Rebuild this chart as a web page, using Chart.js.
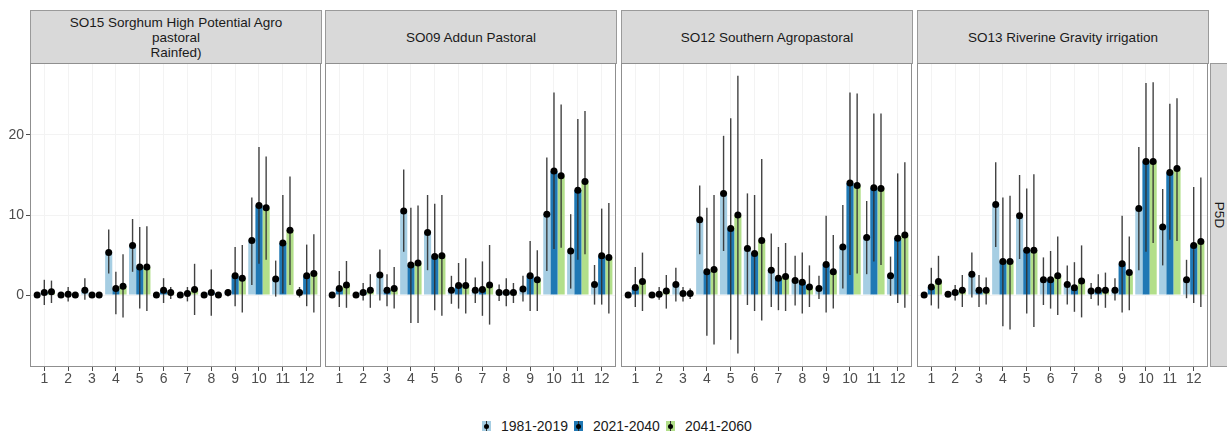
<!DOCTYPE html>
<html>
<head>
<meta charset="utf-8">
<title>P5D monthly means by livelihood zone</title>
<script src="https://cdn.jsdelivr.net/npm/chart.js@4/dist/chart.umd.min.js"></script>
<style>
  html, body { margin: 0; padding: 0; background: #fff; }
  body { width: 1227px; height: 438px; position: relative; overflow: hidden;
         font-family: "Liberation Sans", Arial, sans-serif; }
  .strip { position: absolute; box-sizing: border-box; background: #d9d9d9;
           border: 1px solid #9a9a9a; color: #1a1a1a; font-size: 13.5px;
           display: flex; align-items: center; justify-content: center;
           text-align: center; line-height: 15px; }
  .strip-right { position: absolute; box-sizing: border-box; background: #d9d9d9;
                 border: 1px solid #9a9a9a; }
  .strip-right span { position: absolute; left: 50%; top: 50%; color: #1a1a1a;
                      font-size: 13.5px; white-space: nowrap;
                      transform: translate(-50%, -50%) rotate(90deg); }
  .panel { position: absolute; }
  .legend { position: absolute; top: 416px; left: 482px; height: 20px;
            display: flex; align-items: center; font-size: 14px; color: #1a1a1a; }
  .key { position: relative; width: 9px; height: 10px; margin-right: 10px; }
  .key .bar { position: absolute; left: 4px; top: 0; width: 1px; height: 10px; background: #333; }
  .key .dot { position: absolute; left: 2px; top: 3px; width: 5px; height: 5px;
              border-radius: 50%; background: #000; }
  .legend .lab { margin-right: 6px; }
</style>
</head>
<body>
<div id="root"></div>
<div class="legend" id="legend"></div>
<script>
// Months on the x axis and the three periods compared
const months = [1, 2, 3, 4, 5, 6, 7, 8, 9, 10, 11, 12];
const periods = ["1981-2019", "2021-2040", "2041-2060"];
const periodColors = ["#a6cee3", "#1f78b4", "#b2df8a"];
const zoneNames = [
  ["SO15 Sorghum High Potential Agro", "pastoral", "Rainfed)"],
  ["SO09 Addun Pastoral"],
  ["SO12 Southern Agropastoral"],
  ["SO13 Riverine Gravity irrigation"]
];
const variableName = "P5D";
const yTicks = [0, 10, 20];

// SO15 Sorghum High Potential Agro pastoral (Rainfed): mean, lower, upper
const so15_1981 = [0.0, 0.0, 0.6, 5.3, 6.2, 0.0, 0.0, 0.0, 0.3, 6.8, 2.0, 0.3];
const so15_1981_lo = [-0.2, -0.2, -0.6, 2.7, 2.9, -0.2, -0.2, -0.2, -0.2, 1.25, -0.2, -0.3];
const so15_1981_hi = [0.2, 0.2, 2.1, 8.2, 9.5, 0.2, 0.2, 0.2, 0.7, 12.2, 4.3, 1.0];
const so15_2021 = [0.3, 0.1, 0.0, 0.8, 3.5, 0.6, 0.2, 0.3, 2.4, 11.2, 6.5, 2.4];
const so15_2021_lo = [-1.25, -0.8, -0.2, -2.4, -1.7, -1.0, -0.8, -2.6, -1.4, 3.9, 0.2, -1.4];
const so15_2021_hi = [1.9, 1.0, 0.2, 2.9, 8.5, 2.1, 1.0, 3.2, 6.0, 18.5, 12.5, 6.3];
const so15_2041 = [0.4, 0.0, 0.0, 1.1, 3.5, 0.3, 0.7, 0.0, 2.1, 10.9, 8.1, 2.7];
const so15_2041_lo = [-1.0, -0.2, -0.2, -2.8, -2.0, -0.5, -2.5, -0.2, -2.2, 4.4, 1.25, -2.2];
const so15_2041_hi = [1.8, 0.2, 0.2, 5.1, 8.6, 1.0, 3.9, 0.2, 6.25, 17.3, 14.8, 7.6];

// SO09 Addun Pastoral
const so09_1981 = [0.0, 0.0, 2.5, 10.5, 7.8, 0.6, 0.6, 0.3, 0.75, 10.1, 5.5, 1.3];
const so09_1981_lo = [-0.2, -0.2, -0.7, 5.4, 3.1, -1.1, -1.0, -0.75, -0.8, 3.0, 0.8, -1.2];
const so09_1981_hi = [0.2, 0.2, 5.7, 15.7, 12.5, 2.4, 2.2, 1.3, 2.4, 17.2, 10.1, 3.75];
const so09_2021 = [0.8, 0.3, 0.6, 3.75, 4.8, 1.2, 0.7, 0.3, 2.4, 15.5, 13.1, 4.9];
const so09_2021_lo = [-1.5, -0.7, -1.4, -3.5, -1.9, -1.7, -2.6, -1.4, -2.0, 5.75, 4.4, -1.2];
const so09_2021_hi = [3.0, 1.5, 2.6, 10.9, 11.4, 4.0, 4.2, 2.1, 6.75, 25.3, 22.0, 10.8];
const so09_2041 = [1.25, 0.6, 0.8, 4.0, 4.9, 1.2, 1.25, 0.3, 1.9, 14.9, 14.2, 4.7];
const so09_2041_lo = [-1.6, -1.6, -1.7, -3.5, -2.6, -2.3, -3.7, -1.0, -2.0, 5.9, 5.1, -2.3];
const so09_2041_hi = [4.25, 2.6, 3.5, 11.2, 12.5, 4.6, 6.25, 1.5, 5.6, 23.8, 23.0, 11.5];

// SO12 Southern Agropastoral
const so12_1981 = [0.0, 0.0, 1.3, 9.4, 12.7, 5.8, 3.1, 1.8, 0.8, 6.0, 7.2, 2.4];
const so12_1981_lo = [-0.2, -0.2, -0.8, 5.1, 5.5, -1.25, -1.5, -1.3, -0.5, 0.8, 2.6, -0.1];
const so12_1981_hi = [0.2, 0.2, 3.4, 13.7, 19.9, 12.7, 7.7, 4.9, 2.4, 11.25, 11.75, 4.8];
const so12_2021 = [0.95, 0.1, 0.2, 2.9, 8.3, 5.2, 2.1, 1.6, 3.8, 14.0, 13.4, 7.1];
const so12_2021_lo = [-1.5, -0.6, -0.8, -5.1, -5.6, -2.0, -1.9, -2.3, -2.2, 2.5, 4.2, -1.0];
const so12_2021_hi = [3.5, 1.0, 1.0, 10.9, 22.1, 12.5, 6.0, 5.3, 9.9, 25.3, 22.7, 15.2];
const so12_2041 = [1.7, 0.5, 0.2, 3.2, 10.0, 6.8, 2.3, 1.0, 2.9, 13.7, 13.3, 7.5];
const so12_2041_lo = [-2.0, -1.7, -0.5, -6.2, -7.3, -3.2, -2.0, -1.5, -1.7, 2.7, 3.75, -1.6];
const so12_2041_hi = [5.3, 2.5, 0.8, 12.5, 27.4, 17.0, 6.5, 3.7, 7.5, 25.2, 22.7, 16.6];

// SO13 Riverine Gravity irrigation
const so13_1981 = [0.0, 0.1, 2.6, 11.3, 9.9, 1.9, 1.3, 0.5, 0.6, 10.8, 8.5, 1.9];
const so13_1981_lo = [-0.2, -0.1, -0.3, 6.0, 4.5, -1.25, -1.2, -0.5, -0.7, 3.1, 3.7, -0.4];
const so13_1981_hi = [0.2, 0.3, 5.3, 16.6, 15.0, 4.7, 3.7, 1.5, 2.1, 18.5, 13.25, 4.4];
const so13_2021 = [1.0, 0.3, 0.6, 4.2, 5.6, 1.9, 0.9, 0.6, 3.9, 16.7, 15.3, 6.2];
const so13_2021_lo = [-1.3, -0.7, -1.5, -3.9, -2.3, -1.7, -2.1, -1.3, -2.2, 5.4, 6.9, -1.0];
const so13_2021_hi = [3.4, 1.25, 2.5, 12.2, 13.3, 5.5, 4.1, 2.6, 9.9, 26.5, 23.9, 13.5];
const so13_2041 = [1.7, 0.6, 0.6, 4.2, 5.6, 2.4, 1.75, 0.6, 2.8, 16.7, 15.8, 6.7];
const so13_2041_lo = [-1.7, -1.5, -1.2, -4.3, -4.0, -2.5, -2.8, -1.6, -1.9, 6.5, 6.75, -1.5];
const so13_2041_hi = [4.9, 2.5, 2.2, 12.4, 15.1, 7.3, 6.2, 2.8, 7.3, 26.6, 24.6, 14.7];

// Per-zone grouping of the arrays above (one facet each)
const facets = [
  { mean: [so15_1981, so15_2021, so15_2041], lo: [so15_1981_lo, so15_2021_lo, so15_2041_lo], hi: [so15_1981_hi, so15_2021_hi, so15_2041_hi] },
  { mean: [so09_1981, so09_2021, so09_2041], lo: [so09_1981_lo, so09_2021_lo, so09_2041_lo], hi: [so09_1981_hi, so09_2021_hi, so09_2041_hi] },
  { mean: [so12_1981, so12_2021, so12_2041], lo: [so12_1981_lo, so12_2021_lo, so12_2041_lo], hi: [so12_1981_hi, so12_2021_hi, so12_2041_hi] },
  { mean: [so13_1981, so13_2021, so13_2041], lo: [so13_1981_lo, so13_2021_lo, so13_2041_lo], hi: [so13_1981_hi, so13_2021_hi, so13_2041_hi] }
];

// Facet geometry
const panelLefts = [30, 325, 621, 917];
const panelWidth = 291;
const panelTop = 63;
const panelHeight = 304;
const yAxisWidth = 30;
const xAxisHeight = 24;
const padTop = 3, padRight = 3;

// Vertical ranges with dot at the mean, drawn over the bars
const rangePlugin = {
  id: 'rangeDots',
  afterDatasetsDraw(chart) {
    const ctx = chart.ctx;
    const y = chart.scales.y;
    const area = chart.chartArea;
    ctx.save();
    ctx.beginPath();
    ctx.rect(area.left, area.top, area.right - area.left, area.bottom - area.top);
    ctx.clip();
    chart.data.datasets.forEach((ds, di) => {
      const meta = chart.getDatasetMeta(di);
      meta.data.forEach((bar, i) => {
        const yl = y.getPixelForValue(ds.lo[i]);
        const yh = y.getPixelForValue(ds.hi[i]);
        ctx.strokeStyle = 'rgba(45,45,45,0.9)';
        ctx.lineWidth = 1.4;
        ctx.beginPath();
        ctx.moveTo(bar.x, yl);
        ctx.lineTo(bar.x, yh);
        ctx.stroke();
      });
    });
    chart.data.datasets.forEach((ds, di) => {
      const meta = chart.getDatasetMeta(di);
      meta.data.forEach((bar) => {
        ctx.fillStyle = '#000';
        ctx.beginPath();
        ctx.arc(bar.x, bar.y, 3.5, 0, Math.PI * 2);
        ctx.fill();
      });
    });
    ctx.restore();
  },
  afterDraw(chart) {
    const ctx = chart.ctx;
    const a = chart.chartArea;
    ctx.save();
    ctx.strokeStyle = '#8f8f8f';
    ctx.lineWidth = 1;
    ctx.strokeRect(a.left + 0.5, a.top + 0.5, a.right - a.left - 1, a.bottom - a.top - 1);
    ctx.restore();
  }
};

const root = document.getElementById('root');

facets.forEach((f, z) => {
  // strip header
  const strip = document.createElement('div');
  strip.className = 'strip';
  strip.style.left = panelLefts[z] + 'px';
  strip.style.top = '10px';
  strip.style.width = (panelWidth + 1) + 'px';
  strip.style.height = '54px';
  strip.innerHTML = zoneNames[z].join('<br>');
  root.appendChild(strip);

  const yw = z === 0 ? yAxisWidth : 0;
  const w = yw + panelWidth + padRight;
  const h = padTop + panelHeight + xAxisHeight;
  const holder = document.createElement('div');
  holder.className = 'panel';
  holder.style.left = (panelLefts[z] - yw) + 'px';
  holder.style.top = (panelTop - padTop) + 'px';
  const canvas = document.createElement('canvas');
  canvas.width = w;
  canvas.height = h;
  canvas.style.width = w + 'px';
  canvas.style.height = h + 'px';
  holder.appendChild(canvas);
  root.appendChild(holder);

  new Chart(canvas, {
    type: 'bar',
    data: {
      datasets: periods.map((p, s) => ({
        label: p,
        data: months.map((m, i) => ({ x: m, y: f.mean[s][i] })),
        lo: f.lo[s],
        hi: f.hi[s],
        backgroundColor: periodColors[s],
        borderWidth: 0,
        categoryPercentage: 0.9,
        barPercentage: 1.0
      }))
    },
    options: {
      responsive: false,
      devicePixelRatio: 1,
      animation: false,
      events: [],
      layout: { padding: { top: padTop, right: padRight, left: 0, bottom: 0 } },
      plugins: { legend: { display: false }, tooltip: { enabled: false } },
      scales: {
        x: {
          type: 'linear',
          min: 0.4,
          max: 12.6,
          offset: false,
          afterBuildTicks: (sc) => { sc.ticks = months.map(v => ({ value: v })); },
          afterFit: (sc) => { sc.height = xAxisHeight; sc.paddingLeft = 0; sc.paddingRight = 0; },
          grid: { offset: false, color: '#f3f3f3', lineWidth: 1, tickLength: 4, tickColor: '#4d4d4d', drawOnChartArea: true },
          border: { display: false },
          ticks: { color: '#4d4d4d', font: { family: 'Liberation Sans', size: 14 }, padding: 0, maxRotation: 0, autoSkip: false }
        },
        y: {
          type: 'linear',
          min: -9,
          max: 29,
          afterBuildTicks: (sc) => { sc.ticks = yTicks.map(v => ({ value: v })); },
          afterFit: (sc) => { sc.width = yw; sc.paddingTop = 0; sc.paddingBottom = 0; },
          grid: { color: '#f3f3f3', lineWidth: 1, tickLength: 4, tickColor: '#4d4d4d', drawTicks: z === 0 },
          border: { display: false },
          ticks: { display: z === 0, color: '#4d4d4d', font: { family: 'Liberation Sans', size: 14 }, padding: 2 }
        }
      }
    },
    plugins: [rangePlugin]
  });
});

// right-hand strip with the variable name
const rs = document.createElement('div');
rs.className = 'strip-right';
rs.style.left = '1210px';
rs.style.top = panelTop + 'px';
rs.style.width = '18px';
rs.style.height = panelHeight + 'px';
rs.innerHTML = '<span>' + variableName + '</span>';
root.appendChild(rs);

// legend
const legend = document.getElementById('legend');
periods.forEach((p, s) => {
  const key = document.createElement('div');
  key.className = 'key';
  key.style.background = periodColors[s];
  key.innerHTML = '<div class="bar"></div><div class="dot"></div>';
  const lab = document.createElement('span');
  lab.className = 'lab';
  lab.textContent = p;
  legend.appendChild(key);
  legend.appendChild(lab);
});
</script>
</body>
</html>
